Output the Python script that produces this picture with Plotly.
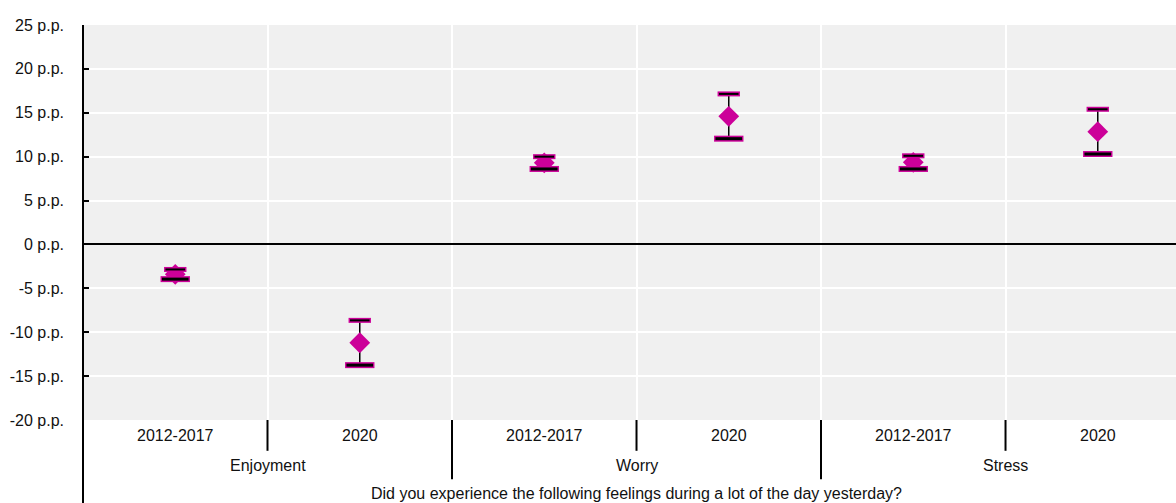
import plotly.graph_objects as go

# Estimated gap (percentage points) with confidence interval half-widths
periods = ["2012-2017", "2020", "2012-2017", "2020", "2012-2017", "2020"]
feelings = ["Enjoyment", "Worry", "Stress"]
estimates = [-3.4, -11.2, 9.3, 14.6, 9.35, 12.85]
ci_half = [0.55, 2.55, 0.7, 2.55, 0.75, 2.55]
y_ticks = [-20, -15, -10, -5, 0, 5, 10, 15, 20, 25]
axis_title = "Did you experience the following feelings during a lot of the day yesterday?"

MAGENTA = "#CC0099"
TEXT = "#111111"
FONT = "Liberation Sans, Arial, sans-serif"
FS = 16

xs = list(range(len(estimates)))
upper = [e + h for e, h in zip(estimates, ci_half)]
lower = [e - h for e, h in zip(estimates, ci_half)]

fig = go.Figure()

# interval stems
fig.add_trace(go.Scatter(
    x=xs, y=estimates, mode="markers",
    marker=dict(size=1, color="rgba(0,0,0,0)"),
    error_y=dict(type="data", symmetric=True, array=ci_half,
                 color="black", thickness=1.5, width=0),
    hoverinfo="skip", showlegend=False,
))

# point estimates
fig.add_trace(go.Scatter(
    x=xs, y=estimates, mode="markers",
    marker=dict(symbol="diamond", size=16, color=MAGENTA, line=dict(width=0)),
    showlegend=False,
))

# interval caps: black bars with a magenta rim
for ys, outer_w, inner_w, size in [(upper, 5, 2, 14), (lower, 6, 3, 19)]:
    fig.add_trace(go.Scatter(
        x=xs, y=ys, mode="markers",
        marker=dict(symbol="line-ew", size=size + 2, line=dict(color=MAGENTA, width=outer_w)),
        hoverinfo="skip", showlegend=False,
    ))
    fig.add_trace(go.Scatter(
        x=xs, y=ys, mode="markers",
        marker=dict(symbol="line-ew", size=size, line=dict(color="black", width=inner_w)),
        hoverinfo="skip", showlegend=False,
    ))

shapes = []
annotations = []

# y axis line running down through the category label area
shapes.append(dict(type="line", xref="paper", yref="paper", x0=0, x1=0, y0=1.0, y1=-0.22,
                   line=dict(color="black", width=2)))

# separators below the plot
for i in range(1, len(periods)):
    b = i - 0.5
    long_sep = (i % 2 == 0)
    shapes.append(dict(type="line", xref="x", yref="paper", x0=b, x1=b,
                       y0=0, y1=-0.15 if long_sep else -0.078,
                       line=dict(color="black", width=2)))

# period labels
for x, p in zip(xs, periods):
    annotations.append(dict(x=x, y=-0.038, xref="x", yref="paper", text=p, showarrow=False,
                            yanchor="middle", font=dict(size=FS, color=TEXT)))

# feeling group labels
for g, f in enumerate(feelings):
    annotations.append(dict(x=2 * g + 0.5, y=-0.114, xref="x", yref="paper", text=f,
                            showarrow=False, yanchor="middle", font=dict(size=FS, color=TEXT)))

# axis title
annotations.append(dict(x=2.5, y=-0.185, xref="x", yref="paper", text=axis_title,
                        showarrow=False, yanchor="middle", font=dict(size=FS, color=TEXT)))

fig.update_layout(
    width=1176, height=503,
    margin=dict(l=83, r=0, t=25, b=83),
    paper_bgcolor="white",
    plot_bgcolor="#F0F0F0",
    font=dict(family=FONT, size=FS, color=TEXT),
    shapes=shapes,
    annotations=annotations,
    xaxis=dict(
        range=[-0.5, 5.424],
        tickvals=[i + 0.5 for i in range(len(periods) - 1)],
        showticklabels=False,
        showgrid=True, gridcolor="white", gridwidth=2,
        zeroline=False, showline=False, ticks="",
    ),
    yaxis=dict(
        range=[-20, 25],
        tickvals=y_ticks,
        ticktext=[f"{v} p.p." for v in y_ticks],
        showgrid=True, gridcolor="white", gridwidth=2,
        zeroline=True, zerolinecolor="black", zerolinewidth=2,
        showline=False,
        ticks="inside", ticklen=6, tickwidth=2, tickcolor="black",
        ticklabelstandoff=18,
        tickfont=dict(size=FS, color=TEXT),
    ),
)

fig.write_html("out.html")
